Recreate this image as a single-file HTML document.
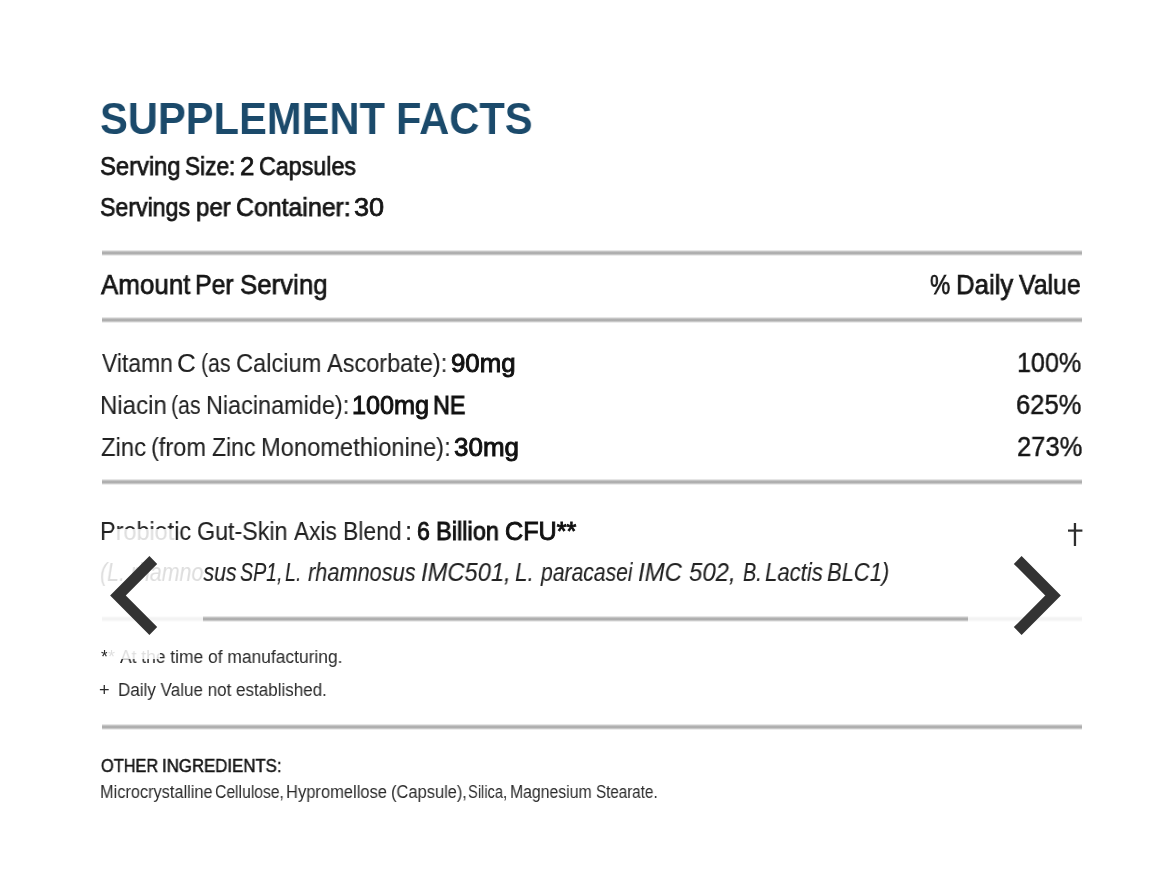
<!DOCTYPE html>
<html>
<head>
<meta charset="utf-8">
<style>
html,body{margin:0;padding:0;background:#fff;}
body{width:1170px;height:891px;position:relative;overflow:hidden;font-family:"Liberation Sans",sans-serif;color:#222;}
.t{position:absolute;white-space:nowrap;line-height:1;will-change:transform;}
.hr{position:absolute;left:102px;width:980px;height:6px;background:linear-gradient(#e6e6e6 0,#e6e6e6 1px,#c4c4c4 1px,#c4c4c4 2px,#b0b0b0 2px,#aeaeae 4px,#c8c8c8 4px,#c8c8c8 5px,#ececec 5px);}
b{font-weight:normal;color:#111;-webkit-text-stroke:0.9px #111;}
.ov{position:absolute;background:rgba(255,255,255,0.85);}
#wrap{position:absolute;left:0;top:0;width:1170px;height:891px;}
#p1{left:1017.23px;top:348.60px;font-size:28px;letter-spacing:0.000px;color:#161616;transform:scaleX(0.896);transform-origin:0 0;-webkit-text-stroke:0.45px #161616;}
#p2{left:1016.11px;top:390.90px;font-size:28px;letter-spacing:0.000px;color:#161616;transform:scaleX(0.9124);transform-origin:0 0;-webkit-text-stroke:0.45px #161616;}
#p3{left:1017.06px;top:432.70px;font-size:28px;letter-spacing:0.000px;color:#161616;transform:scaleX(0.9121);transform-origin:0 0;-webkit-text-stroke:0.45px #161616;}
#title_0{left:100.21px;top:95.91px;font-size:45px;letter-spacing:0.000px;font-weight:bold;color:#1b4a6b;transform:scaleX(0.9268);transform-origin:0 0;}
#title_1{left:395.88px;top:95.91px;font-size:45px;letter-spacing:0.000px;font-weight:bold;color:#1b4a6b;transform:scaleX(0.9259);transform-origin:0 0;}
#ss_0{left:99.76px;top:154.01px;font-size:25.5px;letter-spacing:0.000px;color:#161616;transform:scaleX(0.9318);transform-origin:0 0;-webkit-text-stroke:0.75px #161616;}
#ss_1{left:184.80px;top:154.01px;font-size:25.5px;letter-spacing:0.000px;color:#161616;transform:scaleX(0.8878);transform-origin:0 0;-webkit-text-stroke:0.75px #161616;}
#ss_2{left:239.72px;top:154.01px;font-size:25.5px;letter-spacing:0.000px;color:#161616;transform:scaleX(1.0132);transform-origin:0 0;-webkit-text-stroke:0.75px #161616;}
#ss_3{left:258.97px;top:154.01px;font-size:25.5px;letter-spacing:0.000px;color:#161616;transform:scaleX(0.912);transform-origin:0 0;-webkit-text-stroke:0.75px #161616;}
#spc_0{left:99.81px;top:194.61px;font-size:25.5px;letter-spacing:0.000px;color:#161616;transform:scaleX(0.9072);transform-origin:0 0;-webkit-text-stroke:0.75px #161616;}
#spc_1{left:195.59px;top:194.61px;font-size:25.5px;letter-spacing:0.000px;color:#161616;transform:scaleX(0.9434);transform-origin:0 0;-webkit-text-stroke:0.75px #161616;}
#spc_2{left:235.56px;top:194.61px;font-size:25.5px;letter-spacing:0.000px;color:#161616;transform:scaleX(0.9756);transform-origin:0 0;-webkit-text-stroke:0.75px #161616;}
#spc_3{left:354.01px;top:194.61px;font-size:25.5px;letter-spacing:0.000px;color:#161616;transform:scaleX(1.0622);transform-origin:0 0;-webkit-text-stroke:0.75px #161616;}
#ital_1{left:99.53px;top:559.84px;font-size:25px;letter-spacing:0.000px;font-style:italic;transform:scaleX(0.8549);transform-origin:0 0;-webkit-text-stroke:0.1px #222;}
#ital_2{left:239.64px;top:559.84px;font-size:25px;letter-spacing:0.000px;font-style:italic;transform:scaleX(0.7842);transform-origin:0 0;-webkit-text-stroke:0.1px #222;}
#ital_3{left:284.63px;top:559.84px;font-size:25px;letter-spacing:0.000px;font-style:italic;transform:scaleX(0.7842);transform-origin:0 0;-webkit-text-stroke:0.1px #222;}
#ital_4{left:308.20px;top:559.84px;font-size:25px;letter-spacing:0.000px;font-style:italic;transform:scaleX(0.8698);transform-origin:0 0;-webkit-text-stroke:0.1px #222;}
#ital_5{left:420.98px;top:559.84px;font-size:25px;letter-spacing:0.000px;font-style:italic;transform:scaleX(0.949);transform-origin:0 0;-webkit-text-stroke:0.1px #222;}
#ital_6{left:515.08px;top:559.84px;font-size:25px;letter-spacing:0.000px;font-style:italic;transform:scaleX(0.8963);transform-origin:0 0;-webkit-text-stroke:0.1px #222;}
#ital_7{left:540.55px;top:559.84px;font-size:25px;letter-spacing:0.000px;font-style:italic;transform:scaleX(0.8446);transform-origin:0 0;-webkit-text-stroke:0.1px #222;}
#ital_8{left:638.43px;top:559.84px;font-size:25px;letter-spacing:0.000px;font-style:italic;transform:scaleX(0.9585);transform-origin:0 0;-webkit-text-stroke:0.1px #222;}
#ital_9{left:688.92px;top:559.84px;font-size:25px;letter-spacing:0.000px;font-style:italic;transform:scaleX(0.9585);transform-origin:0 0;-webkit-text-stroke:0.1px #222;}
#ital_10{left:743.32px;top:559.84px;font-size:25px;letter-spacing:0.000px;font-style:italic;transform:scaleX(0.7887);transform-origin:0 0;-webkit-text-stroke:0.1px #222;}
#ital_11{left:765.45px;top:559.84px;font-size:25px;letter-spacing:0.000px;font-style:italic;transform:scaleX(0.8855);transform-origin:0 0;-webkit-text-stroke:0.1px #222;}
#ital_12{left:827.39px;top:559.84px;font-size:25px;letter-spacing:0.000px;font-style:italic;transform:scaleX(0.8785);transform-origin:0 0;-webkit-text-stroke:0.1px #222;}
#aps_0{left:101.00px;top:270.07px;font-size:28.5px;letter-spacing:0.000px;color:#161616;transform:scaleX(0.9108);transform-origin:0 0;-webkit-text-stroke:0.75px #161616;}
#aps_1{left:195.43px;top:270.07px;font-size:28.5px;letter-spacing:0.000px;color:#161616;transform:scaleX(0.8735);transform-origin:0 0;-webkit-text-stroke:0.75px #161616;}
#aps_2{left:239.97px;top:270.07px;font-size:28.5px;letter-spacing:0.000px;color:#161616;transform:scaleX(0.9068);transform-origin:0 0;-webkit-text-stroke:0.75px #161616;}
#dv_0{left:930.04px;top:269.57px;font-size:28.5px;letter-spacing:0.000px;color:#161616;transform:scaleX(0.7968);transform-origin:0 0;-webkit-text-stroke:0.75px #161616;}
#dv_1{left:955.68px;top:269.57px;font-size:28.5px;letter-spacing:0.000px;color:#161616;transform:scaleX(0.905);transform-origin:0 0;-webkit-text-stroke:0.75px #161616;}
#dv_2{left:1019.39px;top:269.57px;font-size:28.5px;letter-spacing:0.000px;color:#161616;transform:scaleX(0.8713);transform-origin:0 0;-webkit-text-stroke:0.75px #161616;}
#r1_0{left:101.80px;top:350.54px;font-size:25px;letter-spacing:0.000px;transform:scaleX(0.9151);transform-origin:0 0;-webkit-text-stroke:0.1px #222;}
#r1_1{left:177.46px;top:350.54px;font-size:25px;letter-spacing:0.000px;transform:scaleX(1.0411);transform-origin:0 0;-webkit-text-stroke:0.1px #222;}
#r1_2{left:201.06px;top:350.54px;font-size:25px;letter-spacing:0.000px;transform:scaleX(0.8518);transform-origin:0 0;-webkit-text-stroke:0.1px #222;}
#r1_3{left:236.18px;top:350.54px;font-size:25px;letter-spacing:0.000px;transform:scaleX(0.9454);transform-origin:0 0;-webkit-text-stroke:0.1px #222;}
#r1_4{left:326.60px;top:350.54px;font-size:25px;letter-spacing:0.000px;transform:scaleX(0.94);transform-origin:0 0;-webkit-text-stroke:0.1px #222;}
#r1_5{left:450.68px;top:350.54px;font-size:25px;letter-spacing:0.000px;transform:scaleX(1.033);transform-origin:0 0;}
#r2_0{left:99.69px;top:392.54px;font-size:25px;letter-spacing:0.000px;transform:scaleX(0.9626);transform-origin:0 0;-webkit-text-stroke:0.1px #222;}
#r2_1{left:171.07px;top:392.54px;font-size:25px;letter-spacing:0.000px;transform:scaleX(0.8527);transform-origin:0 0;-webkit-text-stroke:0.1px #222;}
#r2_2{left:205.76px;top:392.54px;font-size:25px;letter-spacing:0.000px;transform:scaleX(0.9369);transform-origin:0 0;-webkit-text-stroke:0.1px #222;}
#r2_3{left:352.07px;top:392.54px;font-size:25px;letter-spacing:0.000px;transform:scaleX(1.0093);transform-origin:0 0;}
#r2_4{left:432.76px;top:392.54px;font-size:25px;letter-spacing:0.000px;transform:scaleX(0.9334);transform-origin:0 0;}
#r3_0{left:100.78px;top:434.64px;font-size:25px;letter-spacing:0.000px;transform:scaleX(0.9538);transform-origin:0 0;-webkit-text-stroke:0.1px #222;}
#r3_1{left:151.40px;top:434.64px;font-size:25px;letter-spacing:0.000px;transform:scaleX(0.9427);transform-origin:0 0;-webkit-text-stroke:0.1px #222;}
#r3_2{left:211.82px;top:434.64px;font-size:25px;letter-spacing:0.000px;transform:scaleX(0.9208);transform-origin:0 0;-webkit-text-stroke:0.1px #222;}
#r3_3{left:260.78px;top:434.64px;font-size:25px;letter-spacing:0.000px;transform:scaleX(0.9477);transform-origin:0 0;-webkit-text-stroke:0.1px #222;}
#r3_4{left:453.89px;top:434.64px;font-size:25px;letter-spacing:0.000px;transform:scaleX(1.0394);transform-origin:0 0;}
#pro_0{left:99.55px;top:518.84px;font-size:25px;letter-spacing:0.000px;transform:scaleX(0.9366);transform-origin:0 0;-webkit-text-stroke:0.1px #222;}
#pro_1{left:197.16px;top:518.84px;font-size:25px;letter-spacing:0.000px;transform:scaleX(0.9311);transform-origin:0 0;-webkit-text-stroke:0.1px #222;}
#pro_2{left:294.21px;top:518.84px;font-size:25px;letter-spacing:0.000px;transform:scaleX(0.9047);transform-origin:0 0;-webkit-text-stroke:0.1px #222;}
#pro_3{left:343.00px;top:518.84px;font-size:25px;letter-spacing:0.000px;transform:scaleX(0.9155);transform-origin:0 0;-webkit-text-stroke:0.1px #222;}
#pro_4{left:405.14px;top:518.84px;font-size:25px;letter-spacing:0.000px;transform:scaleX(1.0361);transform-origin:0 0;-webkit-text-stroke:0.1px #222;}
#pro_5{left:416.55px;top:518.84px;font-size:25px;letter-spacing:0.000px;transform:scaleX(0.9181);transform-origin:0 0;}
#pro_6{left:435.97px;top:518.84px;font-size:25px;letter-spacing:0.000px;transform:scaleX(0.9441);transform-origin:0 0;}
#pro_7{left:504.72px;top:518.84px;font-size:25px;letter-spacing:0.000px;transform:scaleX(1.0083);transform-origin:0 0;}
#fn1_0{left:100.61px;top:648.06px;font-size:18px;letter-spacing:0.000px;color:#2a2a2a;transform:scaleX(0.9759);transform-origin:0 0;}
#fn1_1{left:120.00px;top:648.06px;font-size:18px;letter-spacing:0.000px;color:#2a2a2a;transform:scaleX(0.9672);transform-origin:0 0;}
#fn2_0{left:99.48px;top:681.46px;font-size:18px;letter-spacing:0.000px;color:#2a2a2a;transform:scaleX(1.0057);transform-origin:0 0;}
#fn2_1{left:117.99px;top:681.46px;font-size:18px;letter-spacing:0.000px;color:#2a2a2a;transform:scaleX(0.946);transform-origin:0 0;}
#oi_0{left:100.61px;top:757.04px;font-size:18.5px;letter-spacing:0.000px;color:#161616;transform:scaleX(0.8816);transform-origin:0 0;-webkit-text-stroke:0.5px #161616;}
#oi_1{left:161.59px;top:757.04px;font-size:18.5px;letter-spacing:0.000px;color:#161616;transform:scaleX(0.9087);transform-origin:0 0;-webkit-text-stroke:0.5px #161616;}
#mc_0{left:99.54px;top:784.39px;font-size:17.5px;letter-spacing:0.000px;color:#2a2a2a;transform:scaleX(0.934);transform-origin:0 0;}
#mc_1{left:215.01px;top:784.39px;font-size:17.5px;letter-spacing:0.000px;color:#2a2a2a;transform:scaleX(0.8962);transform-origin:0 0;}
#mc_2{left:285.74px;top:784.39px;font-size:17.5px;letter-spacing:0.000px;color:#2a2a2a;transform:scaleX(0.9437);transform-origin:0 0;}
#mc_3{left:390.55px;top:784.39px;font-size:17.5px;letter-spacing:0.000px;color:#2a2a2a;transform:scaleX(0.9407);transform-origin:0 0;}
#mc_4{left:468.09px;top:784.39px;font-size:17.5px;letter-spacing:0.000px;color:#2a2a2a;transform:scaleX(0.8389);transform-origin:0 0;}
#mc_5{left:509.81px;top:784.39px;font-size:17.5px;letter-spacing:0.000px;color:#2a2a2a;transform:scaleX(0.9017);transform-origin:0 0;}
#mc_6{left:595.82px;top:784.39px;font-size:17.5px;letter-spacing:0.000px;color:#2a2a2a;transform:scaleX(0.8668);transform-origin:0 0;}
</style>
</head>
<body>
<div id="wrap">
<div class="hr" style="top:250px"></div>
<div class="hr" style="top:317px"></div>
<div class="hr" style="top:479px"></div>
<div class="hr" style="top:616px"></div>
<div class="hr" style="top:724px"></div>
<div class="t" id="p1">100%</div>
<div class="t" id="p2">625%</div>
<div class="t" id="p3">273%</div>
<div class="t" id="title_0">SUPPLEMENT</div>
<div class="t" id="title_1">FACTS</div>
<div class="t" id="ss_0">Serving</div>
<div class="t" id="ss_1">Size:</div>
<div class="t" id="ss_2">2</div>
<div class="t" id="ss_3">Capsules</div>
<div class="t" id="spc_0">Servings</div>
<div class="t" id="spc_1">per</div>
<div class="t" id="spc_2">Container:</div>
<div class="t" id="spc_3">30</div>
<div class="t" id="ital_1">(L. rhamnosus</div>
<div class="t" id="ital_2">SP1,</div>
<div class="t" id="ital_3">L.</div>
<div class="t" id="ital_4">rhamnosus</div>
<div class="t" id="ital_5">IMC501,</div>
<div class="t" id="ital_6">L.</div>
<div class="t" id="ital_7">paracasei</div>
<div class="t" id="ital_8">IMC</div>
<div class="t" id="ital_9">502,</div>
<div class="t" id="ital_10">B.</div>
<div class="t" id="ital_11">Lactis</div>
<div class="t" id="ital_12">BLC1)</div>
<div class="t" id="aps_0">Amount</div>
<div class="t" id="aps_1">Per</div>
<div class="t" id="aps_2">Serving</div>
<div class="t" id="dv_0">%</div>
<div class="t" id="dv_1">Daily</div>
<div class="t" id="dv_2">Value</div>
<div class="t" id="r1_0">Vitamn</div>
<div class="t" id="r1_1">C</div>
<div class="t" id="r1_2">(as</div>
<div class="t" id="r1_3">Calcium</div>
<div class="t" id="r1_4">Ascorbate):</div>
<div class="t" id="r1_5"><b>90mg</b></div>
<div class="t" id="r2_0">Niacin</div>
<div class="t" id="r2_1">(as</div>
<div class="t" id="r2_2">Niacinamide):</div>
<div class="t" id="r2_3"><b>100mg</b></div>
<div class="t" id="r2_4"><b>NE</b></div>
<div class="t" id="r3_0">Zinc</div>
<div class="t" id="r3_1">(from</div>
<div class="t" id="r3_2">Zinc</div>
<div class="t" id="r3_3">Monomethionine):</div>
<div class="t" id="r3_4"><b>30mg</b></div>
<div class="t" id="pro_0">Probiotic</div>
<div class="t" id="pro_1">Gut-Skin</div>
<div class="t" id="pro_2">Axis</div>
<div class="t" id="pro_3">Blend</div>
<div class="t" id="pro_4">:</div>
<div class="t" id="pro_5"><b>6</b></div>
<div class="t" id="pro_6"><b>Billion</b></div>
<div class="t" id="pro_7"><b>CFU**</b></div>
<div class="t" id="fn1_0">**</div>
<div class="t" id="fn1_1">At the time of manufacturing.</div>
<div class="t" id="fn2_0">+</div>
<div class="t" id="fn2_1">Daily Value not established.</div>
<div class="t" id="oi_0">OTHER</div>
<div class="t" id="oi_1">INGREDIENTS:</div>
<div class="t" id="mc_0">Microcrystalline</div>
<div class="t" id="mc_1">Cellulose,</div>
<div class="t" id="mc_2">Hypromellose</div>
<div class="t" id="mc_3">(Capsule),</div>
<div class="t" id="mc_4">Silica,</div>
<div class="t" id="mc_5">Magnesium</div>
<div class="t" id="mc_6">Stearate.</div>
<div class="ov" style="left:95px;top:529px;width:108px;height:130px;clip-path:polygon(19px 0px,78px 0px,80px 14px,108px 31px,108px 99px,65px 119px,65px 130px,12px 130px,12px 116px,0px 106px,0px 36px)"></div>
<div class="ov" style="left:968px;top:529px;width:118px;height:130px;clip-path:polygon(89px 0px,30px 0px,28px 14px,0px 31px,0px 99px,43px 119px,43px 130px,118px 130px,118px 116px,118px 106px,118px 36px)"></div>
<svg style="position:absolute;left:0;top:0" width="1170" height="891">
<rect x="1073.8" y="523" width="2.3" height="23" fill="#2e2e2e"/>
<rect x="1068" y="529.5" width="14.4" height="2.2" fill="#2e2e2e"/>
<polyline points="153.3,560 117.9,595.5 153.3,631" fill="none" stroke="#333" stroke-width="11"/>
<polyline points="1017.7,560 1053.1,595.5 1017.7,631" fill="none" stroke="#333" stroke-width="11"/>
</svg>
</div>
</body>
</html>
